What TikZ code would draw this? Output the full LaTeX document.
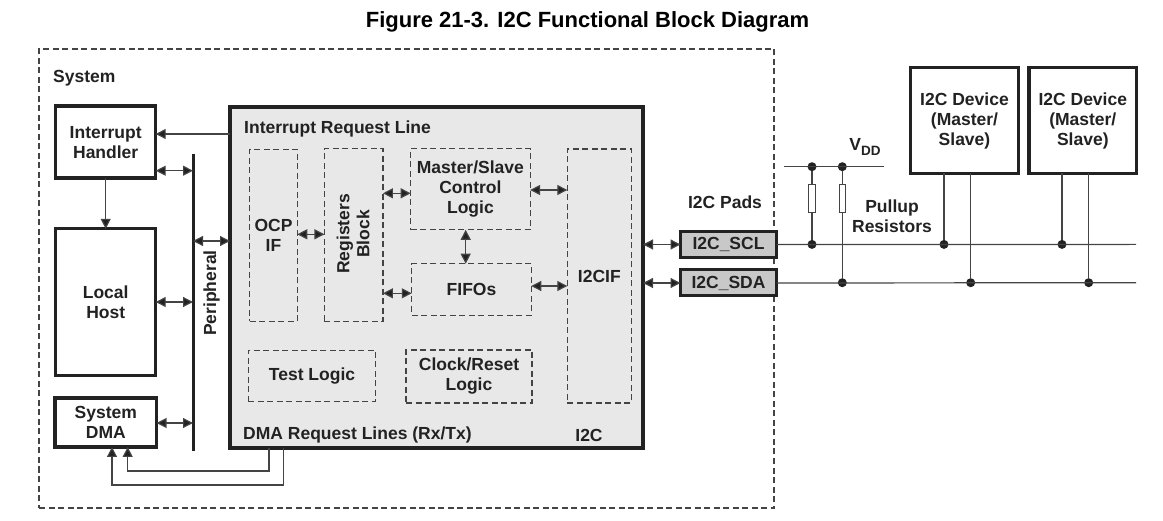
\documentclass[tikz,border=0pt]{standalone}
\usepackage{fontspec}
\setmainfont{Liberation Sans}[BoldFont={Liberation Sans Bold}]
\usetikzlibrary{arrows.meta}
\definecolor{ink}{HTML}{222222}
\definecolor{wire}{HTML}{444444}
\definecolor{blockgray}{HTML}{E8E8E8}
\definecolor{padgray}{HTML}{C8C8C8}
\newcommand{\lbl}{\fontsize{17.5}{20}\selectfont\bfseries}
\tikzset{
  x=1pt,y=-1pt,
  every node/.style={text=ink,font=\lbl,align=center,inner sep=0pt},
  solidbox/.style={draw=ink,line width=3.2pt,fill=white,minimum width=#1,outer sep=0pt},
  dashbox/.style={draw=wire,line width=1.1pt,dash pattern=on 6pt off 3.5pt,minimum width=#1,outer sep=0pt},
  pad/.style={draw=ink,line width=3pt,fill=padgray,minimum width=96pt,minimum height=26pt,outer sep=0pt},
  wireline/.style={draw=wire,line width=1.2pt},
  oneway/.style={wireline,-{Triangle[length=10pt,width=10pt,fill=ink]}},
  twoway/.style={wireline,{Triangle[length=10pt,width=10pt,fill=ink]}-{Triangle[length=10pt,width=10pt,fill=ink]}},
  dot/.style={circle,fill=ink,minimum size=9pt},
  resistor/.style={draw=wire,line width=1.1pt,fill=white,minimum width=6.5pt,minimum height=28pt,outer sep=0pt},
}
\begin{document}
\begin{tikzpicture}
\useasboundingbox (0,0) rectangle (1163,521);
% title
\node[text=black,font=\fontsize{22}{26}\selectfont\bfseries] (title) at (587.5,22) {Figure 21-3. I2C Functional Block Diagram};
% system frame
\node[dashbox=735pt,minimum height=459pt] (system) at (406.5,278.5) {};
\node[anchor=west] (systemlbl) at (53,78) {System};
% main block
\node[solidbox=413pt,minimum height=341pt,fill=blockgray] (i2c) at (436.5,277.5) {};
% left blocks
\node[solidbox=100pt,minimum height=72pt,text depth=0pt] (ih) at (105.7,142) {Interrupt\\Handler};
\node[solidbox=100pt,minimum height=147pt] (lh) at (105.7,302.3) {Local\\Host};
\node[solidbox=101.5pt,minimum height=49pt,text depth=0pt] (dma) at (105.8,422.5) {System\\DMA};
% bus
\coordinate (bustop) at (193,154);
\coordinate (busbot) at (193,451);
\draw[draw=ink,line width=3pt] (bustop) -- (busbot);
\node[rotate=90] (periph) at (211.5,293) {Peripheral};
% inner blocks
\node[anchor=west] (irqlbl) at (244,129) {Interrupt Request Line};
\node[dashbox=47.5pt,minimum height=172pt] (ocp) at (273.5,235.5) {OCP\\IF};
\node[dashbox=58.5pt,minimum height=173pt] (reg) at (353.7,235.3) {};
\node[rotate=90] (reglbl) at (353,234) {Registers\\Block};
\node[dashbox=119.5pt,minimum height=81pt] (ms) at (470.4,189.3) {Master/Slave\\Control\\Logic};
\node[dashbox=119.5pt,minimum height=51.5pt] (fifo) at (471.5,289.5) {FIFOs};
\node[dashbox=64pt,minimum height=254pt] (i2cif) at (599.3,276) {I2CIF};
\node[dashbox=127.5pt,minimum height=51pt] (test) at (312,376) {Test Logic};
\node[dashbox=126pt,minimum height=53pt] (clk) at (469,376.5) {Clock/Reset\\Logic};
\node[anchor=west] (dmalbl) at (243,435) {DMA Request Lines (Rx/Tx)};
\node (i2clbl) at (589,435) {I2C};
% pads
\node[pad] (scl) at (728.5,244.5) {I2C\_SCL};
\node[pad] (sda) at (728.5,283) {I2C\_SDA};
\node (padlbl) at (725,202.5) {I2C Pads};
% devices
\node[solidbox=107.5pt,minimum height=106pt,text depth=2pt] (dev1) at (964.5,120.3) {I2C Device\\(Master/\\Slave)};
\node[solidbox=107.5pt,minimum height=106pt,text depth=2pt] (dev2) at (1082.8,120.3) {I2C Device\\(Master/\\Slave)};
% vdd
\node (vddlbl) at (865,147) {V\raisebox{-0.32em}{\fontsize{13.5}{13.5}\selectfont DD}};
\node (pulllbl) at (892,216) {Pullup\\Resistors};
\coordinate (vddl) at (784,166.7);
\coordinate (vddr) at (884,166.7);
\coordinate (sclr) at (1136,244.4);
\coordinate (sdar) at (1136,282.7);
\node[dot] (vd1) at (812,166.7) {};
\node[dot] (vd2) at (842.3,166.7) {};
\node[resistor] (r1) at (812,198.3) {};
\node[resistor] (r2) at (842.3,198.3) {};
\node[dot] (j1) at (812,244.4) {};
\node[dot] (j2) at (842.3,282.7) {};
\node[dot] (j3) at (944,244.4) {};
\node[dot] (j4) at (970.7,282.7) {};
\node[dot] (j5) at (1062,244.4) {};
\node[dot] (j6) at (1088.7,282.7) {};
% dma corners
\coordinate (d1a) at (127.7,471);
\coordinate (d1b) at (269,471);
\coordinate (d2a) at (112,485);
\coordinate (d2b) at (283.7,485);
% connectors
\draw[oneway] (i2c.west |- 0,134) -- (ih.east |- 0,134);
\draw[oneway] (ih.south) -- (lh.north);
\draw[twoway] (ih.east |- 0,170.7) -- (bustop |- 0,170.7);
\draw[twoway] (bustop |- 0,241) -- (i2c.west |- 0,241);
\draw[twoway] (lh.east |- 0,302) -- (bustop |- 0,302);
\draw[twoway] (dma.east |- 0,423) -- (bustop |- 0,423);
\draw[oneway] (i2c.south -| d1b) -- (d1b) -- (d1a) -- (d1a |- dma.south);
\draw[oneway] (i2c.south -| d2b) -- (d2b) -- (d2a) -- (d2a |- dma.south);
\draw[twoway] (ocp.east |- 0,234.3) -- (reg.west |- 0,234.3);
\draw[twoway] (reg.east |- 0,193.3) -- (ms.west |- 0,193.3);
\draw[twoway] (reg.east |- 0,293.3) -- (fifo.west |- 0,293.3);
\draw[twoway] (ms.east |- 0,190) -- (i2cif.west |- 0,190);
\draw[twoway] (fifo.east |- 0,286) -- (i2cif.west |- 0,286);
\draw[twoway] (ms.south -| 465.7,0) -- (fifo.north -| 465.7,0);
\draw[twoway] (i2c.east |- scl) -- (scl.west);
\draw[twoway] (i2c.east |- sda) -- (sda.west);
\draw[wireline] (scl.east) -- (sclr);
\draw[wireline] (sda.east) -- (sdar);
\draw[wireline] (vddl) -- (vddr);
\draw[wireline] (vd1) -- (r1.north);
\draw[wireline] (r1.south) -- (j1);
\draw[wireline] (vd2) -- (r2.north);
\draw[wireline] (r2.south) -- (j2);
\draw[wireline] (dev1.south -| j3) -- (j3);
\draw[wireline] (dev1.south -| j4) -- (j4);
\draw[wireline] (dev2.south -| j5) -- (j5);
\draw[wireline] (dev2.south -| j6) -- (j6);
\end{tikzpicture}
\end{document}
